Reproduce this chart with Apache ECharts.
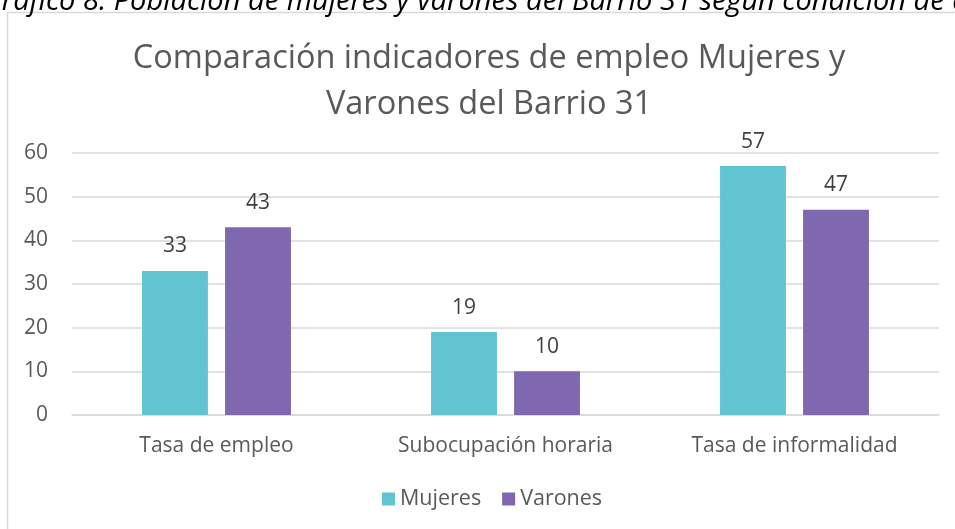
<!DOCTYPE html>
<html>
<head>
<meta charset="utf-8">
<script src="https://cdn.jsdelivr.net/npm/echarts@6/dist/echarts.min.js"></script>
<style>
  html, body { margin: 0; padding: 0; background: #fff; }
  #chart { width: 955px; height: 529px; }
</style>
</head>
<body>
<div id="chart"></div>
<script>
var categories = ['Tasa de empleo', 'Subocupación horaria', 'Tasa de informalidad'];
var mujeres = [33, 19, 57];
var varones = [43, 10, 47];
var yTicks = { min: 0, max: 60, interval: 10 };

var font = 'Open Sans';
var myChart = echarts.init(document.getElementById('chart'));

var option = {
    animation: false,
    backgroundColor: '#fff',
    textStyle: { fontFamily: font },
    graphic: [
        {
            type: 'rect',
            shape: { x: 7.5, y: 12.5, width: 1000, height: 600 },
            style: { fill: 'none', stroke: '#d9d9d9', lineWidth: 1.5 },
            silent: true
        },
        {
            type: 'text',
            x: -18,
            y: -13,
            style: {
                text: 'Gráfico 8: Población de mujeres y varones del Barrio 31 según condición de actividad',
                font: 'italic 29px "Open Sans"',
                fill: '#000'
            }
        },
        {
            // chart title, two centred lines
            type: 'text',
            x: 489,
            y: 36,
            style: {
                text: 'Comparación indicadores de empleo Mujeres y\nVarones del Barrio 31',
                font: '32.5px "Open Sans"',
                fill: '#595959',
                align: 'center',
                lineHeight: 46
            }
        }
    ],
    legend: {
        top: 488,
        left: 382,
        padding: 0,
        itemWidth: 13,
        itemHeight: 13,
        itemGap: 21,
        icon: 'rect',
        textStyle: { fontFamily: font, fontSize: 21.5, color: '#595959' },
        data: ['Mujeres', 'Varones']
    },
    grid: {
        left: 72,
        right: 16,
        top: 153,
        bottom: 114
    },
    xAxis: {
        type: 'category',
        data: categories,
        axisLine: { lineStyle: { color: '#d9d9d9', width: 1.5 } },
        axisTick: { show: false },
        axisLabel: { fontFamily: font, fontSize: 21, color: '#595959', margin: 21 }
    },
    yAxis: {
        type: 'value',
        min: yTicks.min,
        max: yTicks.max,
        interval: yTicks.interval,
        axisLine: { show: false },
        axisTick: { show: false },
        splitLine: { lineStyle: { color: '#d9d9d9', width: 1.5 } },
        axisLabel: { fontFamily: font, fontSize: 21, color: '#595959', margin: 24 }
    },
    series: [
        {
            name: 'Mujeres',
            type: 'bar',
            data: mujeres,
            barWidth: '22.8%',
            barGap: '26%',
            itemStyle: { color: '#60C5D0' },
            label: { show: true, position: 'top', distance: 14, fontFamily: font, fontSize: 21, color: '#404040' }
        },
        {
            name: 'Varones',
            type: 'bar',
            data: varones,
            barWidth: '22.8%',
            itemStyle: { color: '#8068B0' },
            label: { show: true, position: 'top', distance: 14, fontFamily: font, fontSize: 21, color: '#404040' }
        }
    ]
};

myChart.setOption(option);
</script>
</body>
</html>
